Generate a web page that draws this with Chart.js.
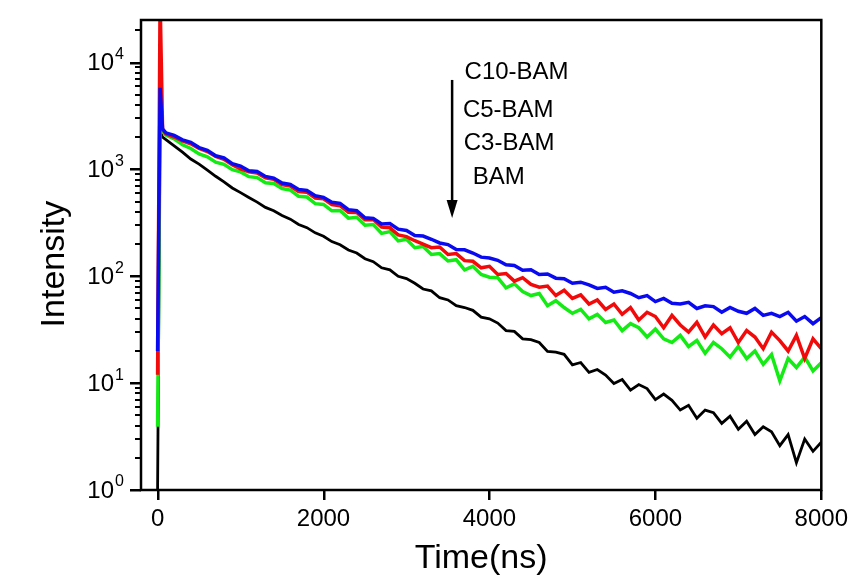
<!DOCTYPE html>
<html>
<head>
<meta charset="utf-8">
<script src="https://cdn.jsdelivr.net/npm/chart.js@4.4.0/dist/chart.umd.min.js"></script>
<style>
  html, body { margin: 0; padding: 0; background: #fff; }
  #decay { display: block; }
</style>
</head>
<body>
<canvas id="decay" width="853" height="580"></canvas>
<script>
// time axis (ns) - instrument channels
const times = [0, 30, 60,
    100, 200, 300, 400, 500, 600, 700, 800, 900, 1000,
    1100, 1200, 1300, 1400, 1500, 1600, 1700, 1800, 1900, 2000,
    2100, 2200, 2300, 2400, 2500, 2600, 2700, 2800, 2900, 3000,
    3100, 3200, 3300, 3400, 3500, 3600, 3700, 3800, 3900, 4000,
    4100, 4200, 4300, 4400, 4500, 4600, 4700, 4800, 4900, 5000,
    5100, 5200, 5300, 5400, 5500, 5600, 5700, 5800, 5900, 6000,
    6100, 6200, 6300, 6400, 6500, 6600, 6700, 6800, 6900, 7000,
    7100, 7200, 7300, 7400, 7500, 7600, 7700, 7800, 7900, 8000];

// BAM (black)
const bam = [1, 2300, 2000,
    1900, 1660, 1450, 1250, 1120, 985, 862, 765, 670, 606,
    546, 494, 441, 410, 370, 342, 305, 285, 255, 237,
    211, 197, 176, 165, 146, 137, 120, 115, 100, 95,
    86, 76, 73, 63, 60, 53, 51, 48, 41.5, 40,
    36.5, 31, 30.5, 26, 25.5, 24, 19.8, 19.5, 18.6, 14.8,
    15.6, 12.6, 13.4, 11.9, 9.9, 10.8, 8.6, 9.7, 8.9, 7.0,
    7.9, 6.9, 5.6, 6.2, 4.7, 5.6, 5.3, 4.2, 4.9, 3.7,
    4.4, 3.3, 3.9, 3.5, 2.6, 3.3, 1.8, 3.0, 2.3, 2.8];

// C3-BAM (green)
const c3bam = [3.9, 2600, 2250,
    2100, 1930, 1700, 1570, 1395, 1310, 1170, 1115, 995, 948,
    855, 838, 750, 738, 662, 640, 560, 551, 478, 470,
    410, 412, 350, 356, 300, 305, 252, 262, 214, 222,
    185, 190, 160, 163, 139, 143, 115, 124, 104, 98,
    97, 78, 85, 72, 66, 69, 53, 59, 51, 45,
    49, 40, 44, 37, 39, 31, 36, 33, 27, 32,
    26, 24, 28, 22, 25, 19, 24, 21, 17.5, 22,
    17, 20, 15, 18.5, 10.5, 17, 14, 17.5, 13, 15.5];

// C5-BAM (red)
const c5bam = [12, 40000, 2350,
    2150, 2010, 1850, 1735, 1575, 1470, 1320, 1245, 1105, 1010,
    950, 925, 835, 808, 720, 700, 622, 612, 540, 530,
    468, 458, 398, 395, 338, 340, 288, 284, 244, 235,
    215, 200, 185, 188, 160, 163, 140, 138, 120, 124,
    104, 106, 90, 97, 84, 79, 81, 66, 74, 62,
    67, 55, 60, 49, 55, 44, 51, 39, 46, 42,
    33, 43, 35, 30, 37, 27, 35, 29, 33, 24,
    31, 27, 21, 30, 25, 20, 28, 17, 26, 21];

// C10-BAM (blue)
const c10bam = [20, 5800, 2400,
    2200, 2080, 1890, 1790, 1600, 1510, 1340, 1285, 1130, 1075,
    970, 955, 860, 830, 745, 722, 650, 634, 566, 548,
    492, 481, 420, 410, 352, 348, 308, 311, 276, 268,
    241, 238, 222, 205, 198, 178, 177, 165, 151, 148,
    141, 128, 126, 114, 115, 104, 105, 96, 95, 86,
    88, 83, 77, 79, 71, 73, 69, 63, 66, 58,
    62, 56, 55, 57, 50, 53, 52, 46, 51, 47,
    45, 50, 43, 45, 42, 46, 38, 42, 36, 41];

const seriesNames = ['C10-BAM', 'C5-BAM', 'C3-BAM', 'BAM'];
const seriesColors = ['#0a0af0', '#f20a0a', '#14ea14', '#000000'];

// axis ticks
const xTicks = [0, 2000, 4000, 6000, 8000];
const yMajorTicks = [1, 10, 100, 1000, 10000];
const yExponents = ['0', '1', '2', '3', '4'];
const yMinorTicks = [2, 3, 4, 5, 6, 7, 8, 9, 20, 30, 40, 50, 60, 70, 80, 90,
    200, 300, 400, 500, 600, 700, 800, 900, 2000, 3000, 4000, 5000, 6000, 7000, 8000, 9000, 20000];

// annotation (data coordinates)
const noteLabels = ['C10-BAM', 'C5-BAM', 'C3-BAM', 'BAM'];
const noteTimes = [3700, 3680, 3690, 3800];
const noteLevels = [7010, 3090, 1520, 730];
const arrowTime = 3550;
const arrowFrom = 6870;
const arrowTo = 351;

const FONT = "'Liberation Sans', Arial, sans-serif";

function makeSet(name, values, color, width) {
    return {
        label: name,
        data: times.map((t, i) => ({ x: t, y: values[i] })),
        borderColor: color,
        backgroundColor: color,
        borderWidth: width,
        pointRadius: 0,
        tension: 0,
        fill: false,
    };
}

const decorPlugin = {
    id: 'decayDecor',
    afterDraw(chart) {
        const ctx = chart.ctx;
        const a = chart.chartArea;
        const x = chart.scales.x;
        const y = chart.scales.y;
        ctx.save();
        ctx.setLineDash([]);
        ctx.fillStyle = '#000';
        ctx.strokeStyle = '#000';

        // frame
        ctx.lineWidth = 2.5;
        ctx.strokeRect(a.left, a.top, a.right - a.left, a.bottom - a.top);

        // y tick labels: 10 with superscript
        ctx.textBaseline = 'middle';
        yMajorTicks.forEach((v, i) => {
            const py = y.getPixelForValue(v);
            ctx.font = '24px ' + FONT;
            ctx.textAlign = 'right';
            ctx.fillText('10', a.left - 27, py + 1);
            ctx.font = '16px ' + FONT;
            ctx.textAlign = 'left';
            ctx.fillText(yExponents[i], a.left - 26, py - 8);
        });

        // y title
        ctx.save();
        ctx.translate(55, y.getPixelForValue(130));
        ctx.rotate(-Math.PI / 2);
        ctx.font = '34px ' + FONT;
        ctx.textAlign = 'center';
        ctx.textBaseline = 'middle';
        ctx.fillText('Intensity', 0, 0);
        ctx.restore();

        // labels next to the arrow
        ctx.font = '24px ' + FONT;
        ctx.textAlign = 'left';
        ctx.textBaseline = 'alphabetic';
        noteLabels.forEach((txt, i) => {
            ctx.fillText(txt, x.getPixelForValue(noteTimes[i]), y.getPixelForValue(noteLevels[i]));
        });

        // arrow
        const ax = x.getPixelForValue(arrowTime);
        const ay0 = y.getPixelForValue(arrowFrom);
        const ay1 = y.getPixelForValue(arrowTo);
        ctx.lineWidth = 2.5;
        ctx.beginPath();
        ctx.moveTo(ax, ay0);
        ctx.lineTo(ax, ay1 - 12);
        ctx.stroke();
        ctx.beginPath();
        ctx.moveTo(ax - 5.5, ay1 - 18);
        ctx.lineTo(ax + 5.5, ay1 - 18);
        ctx.lineTo(ax, ay1);
        ctx.closePath();
        ctx.fill();

        // tick marks: y minor shorter than major, x outward
        yMinorTicks.forEach(v => {
            const py = Math.round(y.getPixelForValue(v));
            ctx.fillRect(a.left - 6, py - 1, 6, 2);
        });
        yMajorTicks.forEach(v => {
            const py = Math.round(y.getPixelForValue(v));
            ctx.fillRect(a.left - 11, py - 1, 11, 2.5);
        });
        xTicks.forEach(v => {
            const px = Math.round(x.getPixelForValue(v));
            ctx.fillRect(px - 1, a.bottom, 2.5, 10);
        });

        ctx.restore();
    }
};

const chartDecay = new Chart(document.getElementById('decay'), {
    type: 'line',
    data: {
        // first dataset is drawn on top
        datasets: [
            makeSet(seriesNames[0], c10bam, seriesColors[0], 3.5),
            makeSet(seriesNames[1], c5bam, seriesColors[1], 3.5),
            makeSet(seriesNames[2], c3bam, seriesColors[2], 3.5),
            makeSet(seriesNames[3], bam, seriesColors[3], 2.8),
        ],
    },
    options: {
        responsive: false,
        animation: false,
        layout: { padding: { top: 20, right: 31, left: 0, bottom: 0 } },
        plugins: {
            legend: { display: false },
            tooltip: { enabled: false },
        },
        scales: {
            x: {
                type: 'linear',
                min: -200,
                max: 8000,
                afterBuildTicks: (scale) => {
                    scale.ticks = xTicks.map(v => ({ value: v }));
                },
                afterFit: (scale) => { scale.height = 90; },
                ticks: {
                    color: '#000',
                    font: { family: FONT, size: 24 },
                    padding: 5,
                    maxRotation: 0,
                    callback: (v) => String(v),
                },
                grid: {
                    drawOnChartArea: false,
                    drawTicks: true,
                    tickLength: 10,
                    color: 'rgba(0,0,0,0)',
                },
                border: { display: false },
                title: {
                    display: true,
                    text: 'Time(ns)',
                    color: '#000',
                    font: { family: FONT, size: 34 },
                    padding: { top: 0, bottom: 1 },
                },
            },
            y: {
                type: 'logarithmic',
                min: 1,
                max: 25000,
                afterFit: (scale) => { scale.width = 141; },
                ticks: { display: false },
                grid: { display: false },
                border: { display: false },
            },
        },
    },
    plugins: [decorPlugin],
});
</script>
</body>
</html>
